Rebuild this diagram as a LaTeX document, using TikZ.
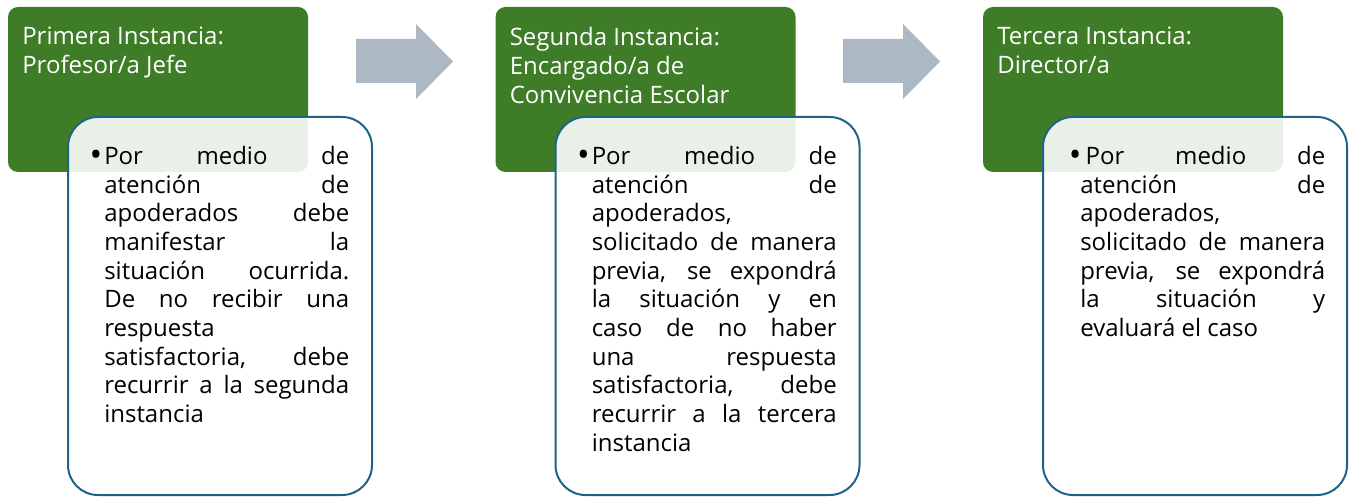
\documentclass[tikz,border=0pt]{standalone}
\usepackage{graphicx}
\usepackage{fontspec}
\setmainfont{Open Sans}
\definecolor{instgreen}{RGB}{62,124,39}
\definecolor{descblue}{RGB}{31,100,135}
\definecolor{arrowgray}{RGB}{172,185,197}
\newcommand{\descfont}{\fontsize{18}{21.5}\selectfont}
\newcommand{\instfont}{\fontsize{18}{21.75}\selectfont}
\newcommand{\descbullet}{\raisebox{-1.8pt}{\scalebox{1.4}{•}}}
\begin{document}
\begin{tikzpicture}[x=0.75pt,y=0.75pt,
		instbox/.style={fill=instgreen,rounded corners=7.5pt,minimum width=225pt,minimum height=123.75pt,inner sep=0pt},
		descbox/.style={draw=descblue,line width=1.5pt,fill=white,fill opacity=0.89,rounded corners=22.5pt,minimum width=228pt,minimum height=283.5pt,inner sep=0pt},
		insttext/.style={anchor=north west,inner sep=0pt,align=left,text=white,font=\instfont},
		desctext/.style={anchor=north west,inner sep=0pt,text width=183.75pt,align=justify,font=\descfont},
		stepshape/.style={fill=arrowgray}]
	\useasboundingbox (0,0) rectangle (1351,496);
	% first column
	\node[instbox] (inst1) at (158,406.5) {};
	\node[insttext] (title1) at (22,469) {Primera Instancia:\\Profesor/a Jefe};
	\node[descbox] (desc1) at (220,190) {};
	\node[desctext] (text1) at (104,350) {\llap{\descbullet\hspace{1.5pt}}Por medio de\linebreak
		atención de\linebreak
		apoderados debe\linebreak
		manifestar la\linebreak
		situación ocurrida.\linebreak
		De no recibir una\linebreak
		respuesta\linebreak
		satisfactoria, debe\linebreak
		recurrir a la segunda\linebreak
		instancia};
	% second column
	\node[instbox] (inst2) at (645.5,406.5) {};
	\node[insttext] (title2) at (509.5,469) {Segunda Instancia:\\Encargado/a de\\Convivencia Escolar};
	\node[descbox] (desc2) at (707.5,190) {};
	\node[desctext] (text2) at (591.5,350) {\llap{\descbullet\hspace{1.5pt}}Por medio de\linebreak
		atención de\linebreak
		apoderados,\linebreak
		solicitado de manera\linebreak
		previa, se expondrá\linebreak
		la situación y en\linebreak
		caso de no haber\linebreak
		una respuesta\linebreak
		satisfactoria, debe\linebreak
		recurrir a la tercera\linebreak
		instancia};
	% third column
	\node[instbox] (inst3) at (1133,406.5) {};
	\node[insttext] (title3) at (997,469) {Tercera Instancia:\\Director/a};
	\node[descbox] (desc3) at (1195,190) {};
	\node[desctext] (text3) at (1080,350) {\hspace*{4pt}\llap{\descbullet\hspace{3pt}}Por medio de\linebreak
		atención de\linebreak
		apoderados,\linebreak
		solicitado de manera\linebreak
		previa, se expondrá\linebreak
		la situación y\linebreak
		evaluará el caso};
	% block arrows
	\fill[stepshape] (356,457) -- (416,457) -- (416,472) -- (453,434.5) -- (416,397) -- (416,413) -- (356,413) -- cycle;
	\fill[stepshape] (843,457) -- (903,457) -- (903,472) -- (940,434.5) -- (903,397) -- (903,413) -- (843,413) -- cycle;
\end{tikzpicture}
\end{document}
